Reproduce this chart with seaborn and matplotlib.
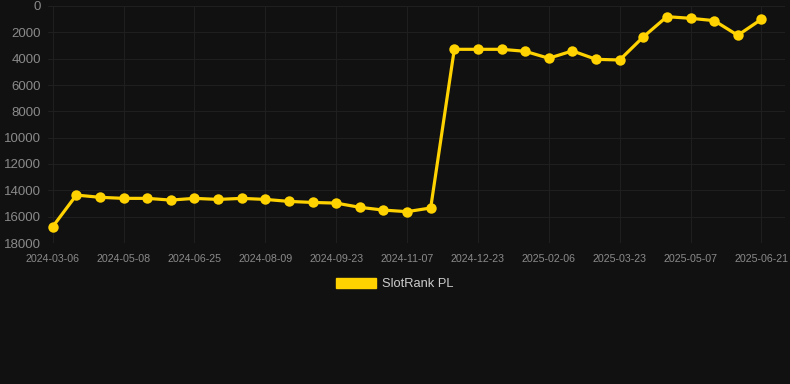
import matplotlib
matplotlib.use("Agg")
import matplotlib.pyplot as plt
import seaborn as sns
import pandas as pd
from matplotlib.patches import Patch

# kolejne pomiary rankingu (mniejsza liczba = lepsza pozycja)
dates = ['2024-03-06', '2024-04-08', '2024-04-23', '2024-05-08', '2024-05-24', '2024-06-09',
         '2024-06-25', '2024-07-10', '2024-07-25', '2024-08-09', '2024-08-24', '2024-09-08',
         '2024-09-23', '2024-10-08', '2024-10-23', '2024-11-07', '2024-11-22', '2024-12-07',
         '2024-12-23', '2025-01-07', '2025-01-22', '2025-02-06', '2025-02-21', '2025-03-08',
         '2025-03-23', '2025-04-07', '2025-04-22', '2025-05-07', '2025-05-22', '2025-06-06',
         '2025-06-21']
rank = [16760, 14360, 14530, 14610, 14610, 14740, 14610, 14690, 14610, 14690, 14840, 14920,
        14970, 15290, 15500, 15620, 15340, 3290, 3290, 3290, 3440, 3970, 3410, 4050,
        4100, 2350, 810, 935, 1110, 2225, 1010]
series_name = 'SlotRank PL'

bg = '#111111'
gold = '#FFD200'
grid_col = '#1f1f1f'
tick_col = '#8a8a8a'

sns.set_theme(style='dark')
plt.rcParams['font.family'] = ['Liberation Sans', 'DejaVu Sans']

df = pd.DataFrame({'pos': range(len(dates)), 'date': dates, 'rank': rank})

fig = plt.figure(figsize=(7.9, 3.84), dpi=100, facecolor=bg)
ax = fig.add_axes([48 / 790, 1 - 243 / 384, (785 - 48) / 790, (243 - 6) / 384])
ax.set_facecolor(bg)

sns.lineplot(data=df, x='pos', y='rank', ax=ax, color=gold, linewidth=2.3,
             marker='o', markersize=7.5, markeredgewidth=0, markerfacecolor=gold)

ax.set_ylim(18000, 0)
ax.set_yticks(range(0, 18001, 2000))
ax.set_xlim(-0.2, 31.0)
ax.set_xticks(df['pos'][::3])
ax.set_xticklabels(df['date'][::3])
ax.set_xlabel('')
ax.set_ylabel('')

ax.grid(True, color=grid_col, linewidth=0.8)
for s in ax.spines.values():
    s.set_visible(False)
ax.tick_params(axis='y', colors=tick_col, labelsize=9.5, length=0, pad=5)
ax.tick_params(axis='x', colors=grid_col, labelcolor=tick_col, labelsize=7.7,
               length=5, width=0.8, pad=3)

fig.legend(handles=[Patch(facecolor=gold, edgecolor=gold, label=series_name)],
           loc='center', bbox_to_anchor=(0.5, 1 - 284 / 384), frameon=False,
           handlelength=3.1, handleheight=0.9, handletextpad=0.5,
           labelcolor='#cccccc', fontsize=9.3)

fig.savefig('out.png', dpi=100, facecolor=bg)
